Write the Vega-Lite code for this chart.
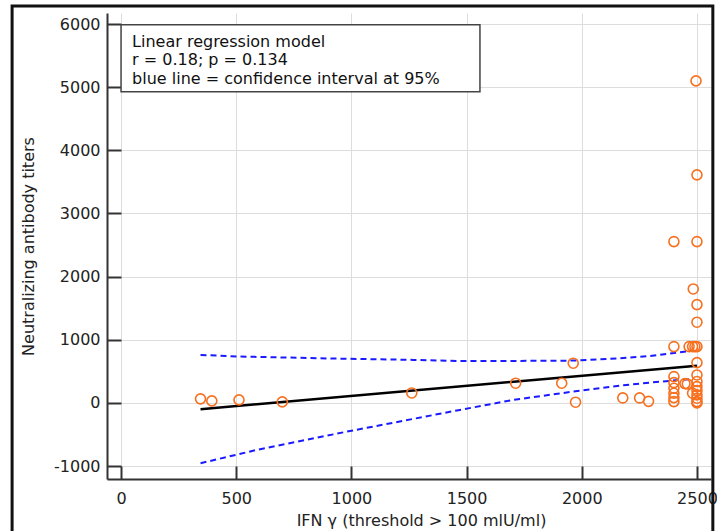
{
  "$schema": "https://vega.github.io/schema/vega-lite/v6.json",
  "width": 604,
  "height": 466,
  "autosize": {"type": "none"},
  "padding": {"left": 107, "top": 13, "right": 6, "bottom": 52},
  "background": "white",
  "config": {"view": {"stroke": null}, "font": "DejaVu Sans"},
  "datasets": {
    "frame": [{"x": -473, "x2": 2569, "y": 6286, "y2": -2250}],
    "box": [{"x": 0, "x2": 1558, "y": 5987, "y2": 4926}],
    "notes": [
      {"x": 48, "y": 5638, "text": "Linear regression model"},
      {"x": 48, "y": 5353, "text": "r = 0.18; p = 0.134"},
      {"x": 48, "y": 5052, "text": "blue line = confidence interval at 95%"}
    ],
    "fit": [{"x": 345, "y": -100}, {"x": 2500, "y": 590}],
    "ci": [
      {"band": "upper", "x": 345, "y": 760},
      {"band": "upper", "x": 512, "y": 735},
      {"band": "upper", "x": 864, "y": 707},
      {"band": "upper", "x": 1268, "y": 681},
      {"band": "upper", "x": 1457, "y": 665},
      {"band": "upper", "x": 1703, "y": 665},
      {"band": "upper", "x": 1963, "y": 670},
      {"band": "upper", "x": 2166, "y": 707},
      {"band": "upper", "x": 2296, "y": 744},
      {"band": "upper", "x": 2481, "y": 829},
      {"band": "lower", "x": 345, "y": -955},
      {"band": "lower", "x": 589, "y": -744},
      {"band": "lower", "x": 980, "y": -455},
      {"band": "lower", "x": 1471, "y": -111},
      {"band": "lower", "x": 1703, "y": 48},
      {"band": "lower", "x": 1963, "y": 179},
      {"band": "lower", "x": 2166, "y": 274},
      {"band": "lower", "x": 2296, "y": 322},
      {"band": "lower", "x": 2481, "y": 380}
    ],
    "points": [
      {"x": 345, "y": 64}, {"x": 394, "y": 32}, {"x": 512, "y": 48}, {"x": 700, "y": 16},
      {"x": 1262, "y": 158}, {"x": 1713, "y": 312}, {"x": 1913, "y": 312}, {"x": 1963, "y": 629},
      {"x": 1973, "y": 11}, {"x": 2178, "y": 79}, {"x": 2251, "y": 79}, {"x": 2290, "y": 25},
      {"x": 2400, "y": 2555}, {"x": 2400, "y": 892}, {"x": 2400, "y": 417}, {"x": 2400, "y": 322},
      {"x": 2400, "y": 232}, {"x": 2400, "y": 153}, {"x": 2400, "y": 84}, {"x": 2400, "y": 21},
      {"x": 2448, "y": 305}, {"x": 2458, "y": 300}, {"x": 2466, "y": 892}, {"x": 2481, "y": 892},
      {"x": 2491, "y": 892}, {"x": 2481, "y": 154}, {"x": 2484, "y": 1805}, {"x": 2496, "y": 5100},
      {"x": 2500, "y": 3611}, {"x": 2500, "y": 2555}, {"x": 2500, "y": 1557}, {"x": 2500, "y": 1278},
      {"x": 2500, "y": 892}, {"x": 2500, "y": 638}, {"x": 2500, "y": 443}, {"x": 2500, "y": 338},
      {"x": 2500, "y": 258}, {"x": 2500, "y": 195}, {"x": 2500, "y": 127}, {"x": 2500, "y": 74},
      {"x": 2500, "y": 21}, {"x": 2500, "y": 0}
    ]
  },
  "layer": [
    {
      "data": {"name": "frame"},
      "mark": {"type": "rect", "fill": null, "stroke": "#111111", "strokeWidth": 3, "clip": false},
      "encoding": {
        "x": {
          "field": "x", "type": "quantitative",
          "scale": {"domain": [-61, 2561], "nice": false, "zero": false},
          "axis": {
            "title": "IFN γ (threshold > 100 mlU/ml)",
            "values": [0, 500, 1000, 1500, 2000, 2500],
            "format": "d",
            "tickSize": -13, "tickWidth": 2, "tickColor": "#333333",
            "domainColor": "#333333", "domainWidth": 2,
            "labelPadding": 24, "labelFontSize": 16, "labelColor": "#222222", "labelFont": "DejaVu Sans",
            "labelFlush": false, "labelOverlap": false,
            "gridColor": "#dddddd", "gridWidth": 1,
            "titleFontSize": 16, "titleFontWeight": "normal", "titleFont": "DejaVu Sans", "titleColor": "#222222",
            "titleX": 314, "titleY": 41, "titleBaseline": "middle", "titleAlign": "center"
          }
        },
        "x2": {"field": "x2"},
        "y": {
          "field": "y", "type": "quantitative",
          "scale": {"domain": [-1205, 6175], "nice": false, "zero": false},
          "axis": {
            "title": "Neutralizing antibody titers",
            "values": [-1000, -500, 0, 500, 1000, 1500, 2000, 2500, 3000, 3500, 4000, 4500, 5000, 5500, 6000],
            "labelExpr": "datum.value % 1000 === 0 ? '' + datum.value : ''",
            "tickSize": {"condition": {"test": "datum.value % 1000 === 0", "value": -14}, "value": -7},
            "gridOpacity": {"condition": {"test": "datum.value % 1000 === 0", "value": 1}, "value": 0},
            "tickWidth": 2, "tickColor": "#333333",
            "domainColor": "#333333", "domainWidth": 2,
            "labelPadding": 21, "labelFontSize": 16, "labelColor": "#222222", "labelFont": "DejaVu Sans",
            "labelFlush": false, "labelOverlap": false,
            "gridColor": "#dddddd", "gridWidth": 1,
            "titleFontSize": 16, "titleFontWeight": "normal", "titleFont": "DejaVu Sans", "titleColor": "#222222",
            "titleX": -79, "titleY": 233, "titleBaseline": "middle", "titleAlign": "center", "titleAngle": -90
          }
        },
        "y2": {"field": "y2"}
      }
    },
    {
      "data": {"name": "box"},
      "mark": {"type": "rect", "fill": "white", "stroke": "#444444", "strokeWidth": 1.5},
      "encoding": {
        "x": {"field": "x", "type": "quantitative"},
        "x2": {"field": "x2"},
        "y": {"field": "y", "type": "quantitative"},
        "y2": {"field": "y2"}
      }
    },
    {
      "data": {"name": "notes"},
      "mark": {"type": "text", "align": "left", "baseline": "alphabetic", "fontSize": 16, "font": "DejaVu Sans", "color": "#111111"},
      "encoding": {
        "x": {"field": "x", "type": "quantitative"},
        "y": {"field": "y", "type": "quantitative"},
        "text": {"field": "text"}
      }
    },
    {
      "data": {"name": "ci"},
      "mark": {"type": "line", "color": "#1a1aff", "strokeWidth": 2, "strokeDash": [6, 4]},
      "encoding": {
        "x": {"field": "x", "type": "quantitative"},
        "y": {"field": "y", "type": "quantitative"},
        "detail": {"field": "band"}
      }
    },
    {
      "data": {"name": "fit"},
      "mark": {"type": "line", "color": "#000000", "strokeWidth": 2.5},
      "encoding": {
        "x": {"field": "x", "type": "quantitative"},
        "y": {"field": "y", "type": "quantitative"}
      }
    },
    {
      "data": {"name": "points"},
      "mark": {"type": "point", "shape": "circle", "filled": false, "size": 100, "strokeWidth": 1.6, "color": "#f7701f", "opacity": 1},
      "encoding": {
        "x": {"field": "x", "type": "quantitative"},
        "y": {"field": "y", "type": "quantitative"}
      }
    }
  ]
}
